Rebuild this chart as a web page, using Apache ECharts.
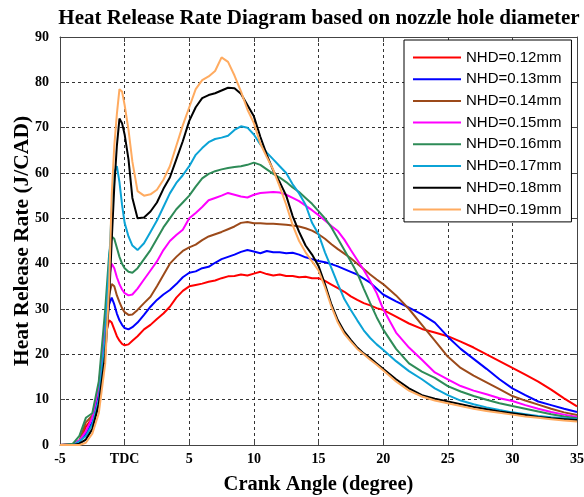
<!DOCTYPE html>
<html>
<head>
<meta charset="utf-8">
<script src="https://cdn.jsdelivr.net/npm/echarts@6/dist/echarts.min.js"></script>
<style>
  html, body { margin: 0; padding: 0; background: #fff; }
  #hrr { width: 584px; height: 497px; }
</style>
</head>
<body>
<div id="hrr"></div>
<script>
// crank angle (deg), shared by every curve
var angles = [-5, -4, -3.5, -3, -2.5, -2, -1.5, -1.2, -1, -0.8, -0.6, -0.4, -0.2, 0, 0.3, 0.6,
  1, 1.5, 2, 2.5, 3, 3.5, 4, 4.5, 5, 5.5, 6, 6.5, 7, 7.5, 8, 8.5, 9, 9.5, 10, 10.5,
  11, 11.5, 12, 12.5, 13, 13.5, 14, 14.5, 15, 15.5, 16, 16.5, 17, 17.5, 18, 18.5, 19, 19.5,
  20, 21, 22, 23, 24, 25, 26, 27, 28, 29, 30, 31, 32, 33, 34, 35];

var names = ['NHD=0.12mm', 'NHD=0.13mm', 'NHD=0.14mm', 'NHD=0.15mm',
  'NHD=0.16mm', 'NHD=0.17mm', 'NHD=0.18mm', 'NHD=0.19mm'];
var colors = ['#ff0000', '#0000ff', '#9c4a1a', '#ff00ff', '#2e8b57', '#0ba3d6', '#000000', '#ffab60'];

// heat release rate (J/CAD)
var nhd012 = [0, 0, 0.5, 4, 6, 13, 24, 27.5, 27, 25.5, 24, 23, 22.3, 22, 22.2, 23,
  24, 25.5, 26.5, 27.8, 29, 30.5, 32.5, 34, 35, 35.3, 35.6, 36, 36.3, 36.8, 37.2, 37.3, 37.6, 37.4, 37.8, 38.2,
  37.7, 37.4, 37.6, 37.3, 37.3, 37, 37.1, 36.8, 36.8, 36.2, 35.4, 34.6, 33.8, 32.8, 32, 31.3, 30.8, 30.2,
  29.8, 28.3, 26.8, 25.6, 24.8, 24, 22.8, 21.5, 20, 18.5, 17, 15.5, 14, 12.2, 10.3, 8.5];
var nhd013 = [0, 0, 0.8, 2.5, 5, 12, 25, 31, 32.5, 31, 29, 27.5, 26.5, 25.8, 25.5, 26,
  27, 28.7, 30.5, 32, 33.2, 34.2, 35.5, 37, 38, 38.3, 39, 39.3, 40.2, 41, 41.5, 42, 42.6, 43, 42.7, 42.3,
  42.8, 42.5, 42.5, 42.3, 42.4, 42, 41.4, 41, 40.6, 40.3, 39.9, 39.4, 38.8, 38.2, 37.6, 36.7, 35.8, 34.5,
  33.2, 31.7, 30.3, 28.8, 27, 23.9, 21.2, 19, 16.8, 14.5, 12.5, 11, 9.6, 8.8, 8, 7.3];
var nhd014 = [0, 0.3, 1, 5, 6.5, 13, 25, 33, 35.5, 35, 33, 31.5, 30.2, 29.3, 28.7, 28.8,
  29.8, 31.3, 32.7, 35, 37.5, 40, 41.5, 42.8, 43.6, 44.2, 45.2, 46, 46.5, 47, 47.6, 48.2, 49, 49.2, 48.9, 48.9,
  48.8, 48.8, 48.7, 48.6, 48.4, 48.2, 47.8, 47.3, 46.5, 45.5, 44.3, 43.2, 42.2, 41.2, 40, 38.8, 37.6, 36.5,
  35.5, 33, 30, 26.5, 23, 19.5, 17, 15.3, 13.8, 12.3, 10.8, 9.8, 8.9, 8, 7.2, 6.6];
var nhd015 = [0, 0.2, 1, 3, 6, 13, 27, 37, 40, 39, 37, 35.5, 34.3, 33.5, 33, 33.2,
  34.5, 36.5, 38.5, 40.5, 43, 45, 46.3, 47.5, 50, 51.2, 52.5, 54, 54.5, 55, 55.6, 55.2, 54.8, 54.6, 55.2, 55.6,
  55.7, 55.8, 55.7, 55.2, 54.5, 53.8, 52.8, 51.8, 50.7, 49.5, 48.3, 47.2, 45.3, 43, 40.8, 38.6, 36.2, 33.5,
  30, 24.8, 21.5, 18.8, 16, 14.5, 13, 12, 11.2, 10.3, 9.7, 8.8, 8, 7.3, 6.7, 6.2];
var nhd016 = [0, 0.3, 2, 6, 7, 14, 30, 42, 46, 45.5, 43.5, 41.5, 40, 39, 38.2, 38,
  39, 41, 43, 45.5, 48, 50, 52, 53.5, 55, 57, 58.8, 59.8, 60.4, 60.8, 61.1, 61.3, 61.5, 61.8, 62.3, 61.8,
  60.8, 59.8, 59, 58, 56.8, 55.8, 54.5, 53.2, 51.6, 50, 48, 45.5, 43, 40.5, 37.9, 34.5, 31.3, 28.2,
  25.5, 21.2, 18, 16.2, 14.8, 13, 11.8, 10.8, 10, 9.2, 8.6, 8, 7.4, 6.8, 6.3, 5.9];
var nhd017 = [0, 0, 0.8, 2, 4.5, 10, 24, 40, 52, 60, 61.5, 58, 53, 49, 46, 44,
  43, 44.5, 47, 49.5, 52.5, 55.5, 57.8, 59.5, 61.5, 64, 65.5, 66.8, 67.5, 67.8, 68.2, 69.5, 70.3, 70, 68.5, 66.3,
  64.5, 63, 61.5, 60, 57.5, 55.5, 53, 49, 46.5, 42.5, 39, 35.5, 32.2, 29.8, 27.5, 25.3, 23.6, 22.2,
  21, 18.5, 16.3, 14.5, 12.5, 11, 9.8, 9, 8.3, 7.7, 7.2, 6.8, 6.4, 6.1, 5.9, 5.7];
var nhd018 = [0, 0, 0.3, 1.2, 3.5, 9, 20, 32, 45, 57, 66, 72, 71, 68.5, 63, 54.5,
  50, 50.2, 51.5, 53.5, 56.5, 59, 63, 67, 71.5, 74.5, 76.5, 77.2, 77.6, 78.2, 78.8, 78.7, 77.5, 75, 72.5, 68,
  64, 60.5, 58, 55, 50.5, 47, 44, 42, 39.5, 35.5, 31, 27.5, 25, 23.2, 21.5, 20.2, 19.2, 18,
  16.8, 14.5, 12.5, 11, 10.2, 9.6, 9, 8.4, 7.9, 7.4, 7, 6.6, 6.2, 5.9, 5.7, 5.5];
var nhd019 = [0, 0, 0, 0.5, 2.5, 7, 18, 35, 55, 66, 73, 78.5, 78, 75, 69.5, 62.5,
  56, 55, 55.3, 56.3, 58.5, 61.5, 66, 70.5, 74.5, 78.5, 80.5, 81.3, 82.5, 85.5, 84.5, 81.5, 78, 74, 71, 66.5,
  63.5, 60.7, 57, 53, 48.5, 45, 42.5, 40.5, 38.5, 34.8, 30.5, 27, 24.5, 22.8, 21.2, 20, 18.8, 17.7,
  16.5, 14, 12, 10.7, 9.8, 9.2, 8.6, 8, 7.5, 7.1, 6.7, 6.3, 6, 5.7, 5.4, 5.2];

var curves = [nhd012, nhd013, nhd014, nhd015, nhd016, nhd017, nhd018, nhd019];

var serif = '"Liberation Serif", "Times New Roman", serif';

var myChart = echarts.init(document.getElementById('hrr'));

var series = curves.map(function (vals, i) {
  return {
    name: names[i],
    type: 'line',
    symbol: 'none',
    xAxisIndex: 0,
    yAxisIndex: 0,
    lineStyle: { width: 2, color: colors[i] },
    itemStyle: { color: colors[i] },
    data: angles.map(function (a, k) { return [a, vals[k]]; })
  };
});

var frame = { show: true, onZero: false, lineStyle: { color: '#444' } };
var inTick = { inside: true, length: 5, lineStyle: { color: '#444' } };
var dashed = { show: true, lineStyle: { color: '#333', type: [3, 3], width: 1 } };

var option = {
  animation: false,
  backgroundColor: '#fff',
  title: {
    text: 'Heat Release Rate Diagram based on nozzle hole diameter',
    left: 314,
    textAlign: 'center',
    top: 3,
    textStyle: { fontFamily: serif, fontWeight: 'bold', fontSize: 21, color: '#000' }
  },
  legend: {
    orient: 'vertical',
    left: 404,
    top: 40,
    padding: [10, 10, 5, 9],
    icon: 'rect',
    itemWidth: 48,
    itemHeight: 2,
    itemGap: 6.7,
    borderColor: '#000',
    borderWidth: 1,
    backgroundColor: '#fff',
    textStyle: { fontFamily: '"Liberation Sans", Arial, sans-serif', fontSize: 15, color: '#000' },
    data: names
  },
  grid: { left: 60, right: 7, top: 37, bottom: 52, outerBoundsMode: 'none' },
  xAxis: [{
    type: 'value',
    min: -5, max: 35, interval: 5,
    name: 'Crank Angle (degree)',
    nameLocation: 'middle',
    nameGap: 29,
    nameMoveOverlap: false,
    nameTextStyle: { fontFamily: serif, fontWeight: 'bold', fontSize: 20.5, color: '#000' },
    axisLine: frame,
    axisTick: inTick,
    axisLabel: {
      fontFamily: serif, fontWeight: 'bold', fontSize: 14, color: '#000', margin: 7,
      formatter: function (v) { return v === 0 ? 'TDC' : v; }
    },
    splitLine: dashed
  }, {
    type: 'value', position: 'top',
    min: -5, max: 35, interval: 5,
    axisLine: frame,
    axisTick: inTick,
    axisLabel: { show: false },
    splitLine: { show: false }
  }],
  yAxis: [{
    type: 'value',
    min: 0, max: 90, interval: 10,
    name: 'Heat Release Rate (J/CAD)',
    nameLocation: 'middle',
    nameGap: 27,
    nameMoveOverlap: false,
    nameTextStyle: { fontFamily: serif, fontWeight: 'bold', fontSize: 21.5, color: '#000' },
    axisLine: frame,
    axisTick: inTick,
    axisLabel: { fontFamily: serif, fontWeight: 'bold', fontSize: 14, color: '#000', margin: 11 },
    splitLine: dashed
  }, {
    type: 'value', position: 'right',
    min: 0, max: 90, interval: 10,
    axisLine: frame,
    axisTick: inTick,
    axisLabel: { show: false },
    splitLine: { show: false }
  }],
  series: series
};

myChart.setOption(option);
</script>
</body>
</html>
